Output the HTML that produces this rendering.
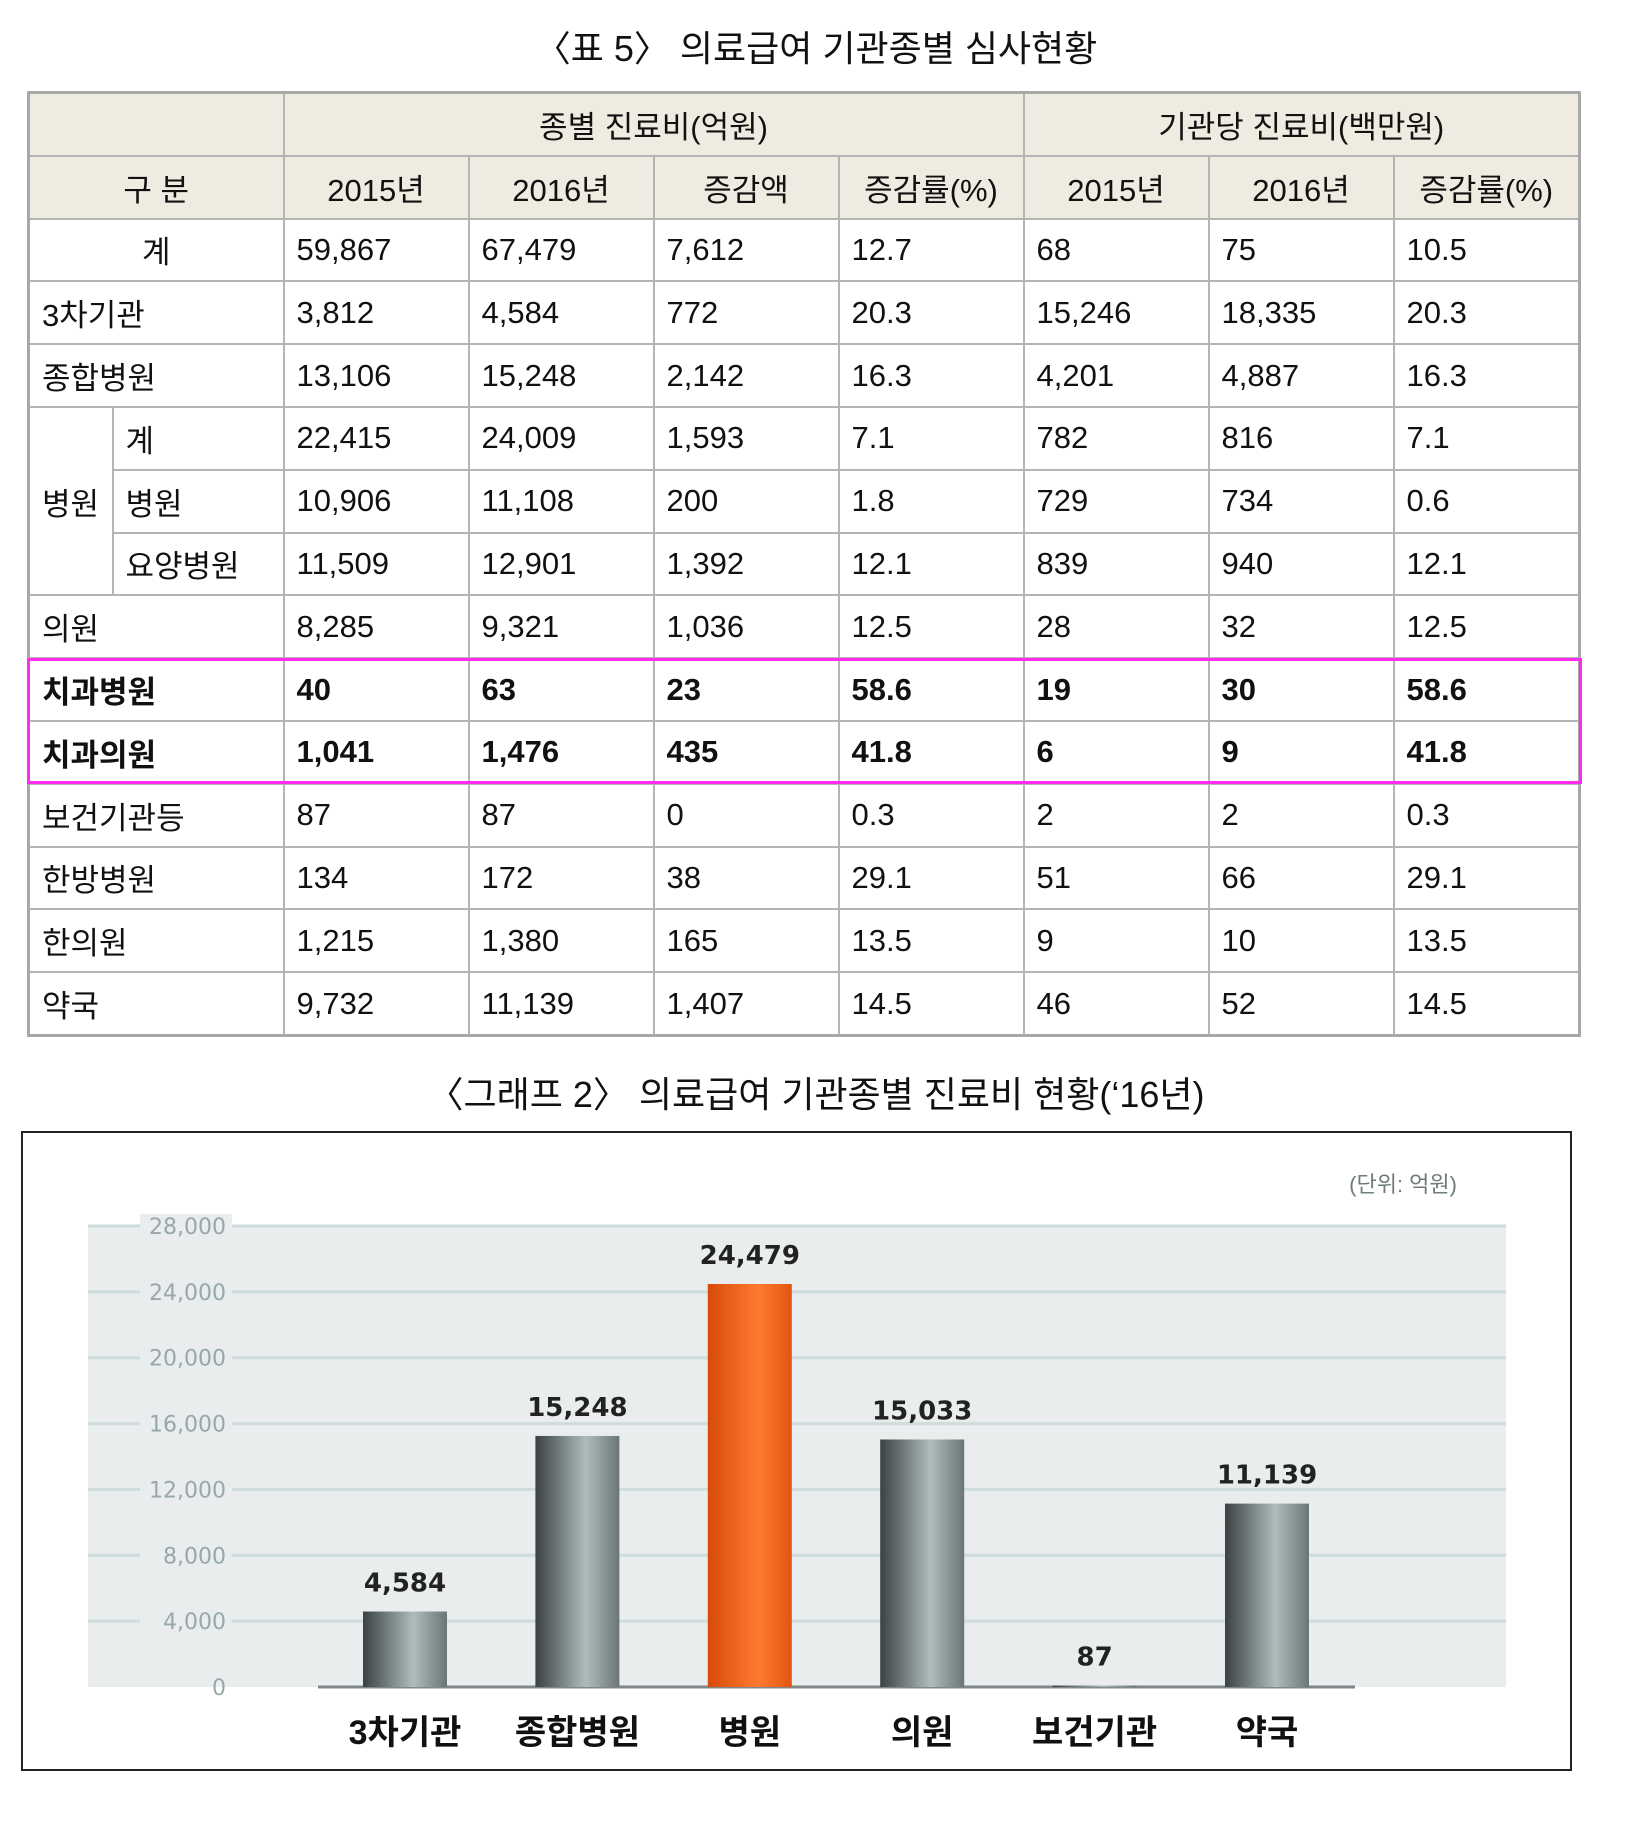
<!DOCTYPE html>
<html><head><meta charset="utf-8">
<style>
body{margin:0;width:1632px;height:1830px;background:#fff;position:relative;font-family:"Liberation Sans","Noto Sans CJK KR",sans-serif;overflow:hidden}
.title{position:absolute;left:0;width:1632px;text-align:center;font-size:36px;color:#111}
table{position:absolute;left:27px;top:91px;border-collapse:collapse;table-layout:fixed;border:3px solid #a8a8a8}
td{border:2px solid #b4b4b4;height:60.8px;padding:0 0 0 12px;font-size:31px;color:#111;white-space:nowrap;font-family:"Liberation Sans","Noto Sans CJK KR",sans-serif}
tr.h td{background:#efebe0;text-align:center;padding:0}
td.c{text-align:center;padding:0}
tr.b td{font-weight:bold}
#hl{position:absolute;left:27px;top:658px;width:1549px;height:120px;border:3px solid #ff2cf0;pointer-events:none}
</style></head><body>
<div class="title" style="top:20px">〈표 5〉 의료급여 기관종별 심사현황</div>
<table>
<colgroup><col style="width:84px"><col style="width:171px"><col style="width:185px"><col style="width:185px"><col style="width:185px"><col style="width:185px"><col style="width:185px"><col style="width:185px"><col style="width:186px"></colgroup>
<tr class="h"><td colspan="2"></td><td colspan="4">종별 진료비(억원)</td><td colspan="3">기관당 진료비(백만원)</td></tr>
<tr class="h"><td colspan="2">구 분</td><td>2015년</td><td>2016년</td><td>증감액</td><td>증감률(%)</td><td>2015년</td><td>2016년</td><td>증감률(%)</td></tr>
<tr><td colspan="2" class="c">계</td><td>59,867</td><td>67,479</td><td>7,612</td><td>12.7</td><td>68</td><td>75</td><td>10.5</td></tr>
<tr><td colspan="2">3차기관</td><td>3,812</td><td>4,584</td><td>772</td><td>20.3</td><td>15,246</td><td>18,335</td><td>20.3</td></tr>
<tr><td colspan="2">종합병원</td><td>13,106</td><td>15,248</td><td>2,142</td><td>16.3</td><td>4,201</td><td>4,887</td><td>16.3</td></tr>
<tr><td rowspan="3">병원</td><td>계</td><td>22,415</td><td>24,009</td><td>1,593</td><td>7.1</td><td>782</td><td>816</td><td>7.1</td></tr>
<tr><td>병원</td><td>10,906</td><td>11,108</td><td>200</td><td>1.8</td><td>729</td><td>734</td><td>0.6</td></tr>
<tr><td>요양병원</td><td>11,509</td><td>12,901</td><td>1,392</td><td>12.1</td><td>839</td><td>940</td><td>12.1</td></tr>
<tr><td colspan="2">의원</td><td>8,285</td><td>9,321</td><td>1,036</td><td>12.5</td><td>28</td><td>32</td><td>12.5</td></tr>
<tr class="b"><td colspan="2">치과병원</td><td>40</td><td>63</td><td>23</td><td>58.6</td><td>19</td><td>30</td><td>58.6</td></tr>
<tr class="b"><td colspan="2">치과의원</td><td>1,041</td><td>1,476</td><td>435</td><td>41.8</td><td>6</td><td>9</td><td>41.8</td></tr>
<tr><td colspan="2">보건기관등</td><td>87</td><td>87</td><td>0</td><td>0.3</td><td>2</td><td>2</td><td>0.3</td></tr>
<tr><td colspan="2">한방병원</td><td>134</td><td>172</td><td>38</td><td>29.1</td><td>51</td><td>66</td><td>29.1</td></tr>
<tr><td colspan="2">한의원</td><td>1,215</td><td>1,380</td><td>165</td><td>13.5</td><td>9</td><td>10</td><td>13.5</td></tr>
<tr><td colspan="2">약국</td><td>9,732</td><td>11,139</td><td>1,407</td><td>14.5</td><td>46</td><td>52</td><td>14.5</td></tr>
</table>
<div id="hl"></div>
<div class="title" style="top:1066px">〈그래프 2〉 의료급여 기관종별 진료비 현황(‘16년)</div>
<svg id="chart" width="1632" height="1830" style="position:absolute;left:0;top:0">
<defs>
<linearGradient id="gg" x1="0" x2="1"><stop offset="0" stop-color="#3a4242"/><stop offset="0.6" stop-color="#b0bcbc"/><stop offset="1" stop-color="#6a7676"/></linearGradient>
<linearGradient id="og" x1="0" x2="1"><stop offset="0" stop-color="#d84a0a"/><stop offset="0.6" stop-color="#ff7a30"/><stop offset="1" stop-color="#e25510"/></linearGradient>
</defs>
<rect x="22" y="1132" width="1549" height="638" fill="#fff" stroke="#222" stroke-width="2"/>
<rect x="88" y="1226" width="1418" height="461" fill="#e9eded"/>
<text x="1457" y="1192" text-anchor="end" font-size="22" fill="#6e7c7c" font-family="Liberation Sans, Noto Sans CJK KR, sans-serif">(단위: 억원)</text>
</svg>
<script>
const categories=["3차기관","종합병원","병원","의원","보건기관","약국"];
const values=[4584,15248,24479,15033,87,11139];
const valueLabels=["4,584","15,248","24,479","15,033","87","11,139"];
const ticks=[0,4000,8000,12000,16000,20000,24000,28000];
const tickLabels=["0","4,000","8,000","12,000","16,000","20,000","24,000","28,000"];
const highlight=[false,false,true,false,false,false];
const svg=document.getElementById('chart');
const NS='http://www.w3.org/2000/svg';
const y0=1687,yTop=1226,vmax=28000;
function y(v){return y0-(v/vmax)*(y0-yTop);}
function x(i){return 405+i*172.4;}
const bw=84;
function mk(t,a){const e=document.createElementNS(NS,t);for(const k in a)e.setAttribute(k,a[k]);svg.appendChild(e);return e;}
ticks.forEach((t,i)=>{
  if(t>0){const g=mk('line',{x1:88,x2:1506,y1:y(t),y2:y(t),stroke:'#cfdcdc','stroke-width':3});
  
  
  const r=mk('rect',{x:140,y:y(t)-12,width:92,height:24,fill:'#e9eded'});
  
  }
  const tx=mk('text',{x:226,y:y(t)+8,'text-anchor':'end','font-size':22,fill:'#98a8a8','font-family':'DejaVu Sans, sans-serif'});
  tx.textContent=tickLabels[i];
  
  
});
const base=mk('line',{x1:318,x2:1355,y1:y0,y2:y0,stroke:'#7e8888','stroke-width':3});


values.forEach((v,i)=>{
  const b=mk('rect',{x:x(i)-bw/2,y:y(v),width:bw,height:y0-y(v),fill:highlight[i]?'url(#og)':'url(#gg)'});
  
  
  const l=mk('text',{x:x(i),y:y(v)-20,'text-anchor':'middle','font-size':26,'font-weight':'bold',fill:'#222','font-family':'DejaVu Sans, sans-serif'});
  l.textContent=valueLabels[i];
  
  
  const c=mk('text',{x:x(i),y:1744,'text-anchor':'middle','font-size':34,'font-weight':'bold',fill:'#111','font-family':'Liberation Sans, Noto Sans CJK KR, sans-serif'});
  c.textContent=categories[i];
  
  
});
</script>
</body></html>
